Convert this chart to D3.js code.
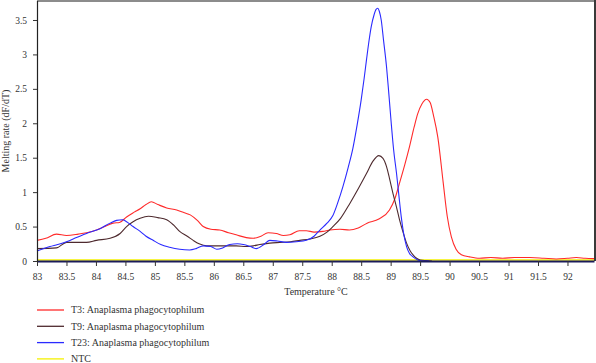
<!DOCTYPE html>
<html>
<head>
<meta charset="utf-8">
<script src="https://cdn.jsdelivr.net/npm/d3@7"></script>
<style>
  body { margin: 0; background: #fff; }
  svg { display: block; font-family: "Liberation Serif", "DejaVu Serif", serif; }
</style>
</head>
<body>
<svg id="chart" width="596" height="363"></svg>
<script>
// melt curve data
const t3Temp = [83.0, 83.15, 83.33, 83.5, 83.7, 83.84, 84.01, 84.15, 84.29, 84.4, 84.52, 84.65, 84.75, 84.85, 84.94, 85.05, 85.2, 85.37, 85.5, 85.6, 85.72, 85.82, 85.95, 86.1, 86.25, 86.38, 86.55, 86.67, 86.8, 86.92, 87.06, 87.18, 87.29, 87.45, 87.57, 87.7, 87.85, 87.97, 88.14, 88.3, 88.45, 88.6, 88.8, 88.98, 89.07, 89.15, 89.24, 89.32, 89.4, 89.46, 89.53, 89.61, 89.67, 89.73, 89.8, 89.89, 89.96, 90.03, 90.11, 90.2, 90.34, 90.51, 90.7, 90.9, 91.1, 91.36, 91.6, 91.81, 92.0, 92.15, 92.3, 92.45];
const t3Rate = [0.30, 0.33, 0.39, 0.37, 0.39, 0.41, 0.45, 0.50, 0.55, 0.56, 0.64, 0.71, 0.76, 0.82, 0.86, 0.82, 0.77, 0.74, 0.70, 0.67, 0.59, 0.50, 0.46, 0.45, 0.41, 0.38, 0.34, 0.33, 0.36, 0.41, 0.40, 0.37, 0.38, 0.44, 0.44, 0.42, 0.43, 0.45, 0.46, 0.45, 0.48, 0.55, 0.61, 0.74, 0.90, 1.13, 1.40, 1.66, 1.95, 2.14, 2.28, 2.35, 2.30, 2.10, 1.80, 1.15, 0.65, 0.35, 0.17, 0.09, 0.06, 0.04, 0.05, 0.04, 0.05, 0.05, 0.04, 0.03, 0.04, 0.05, 0.04, 0.035];

const t9Temp = [83.0, 83.33, 83.5, 83.84, 84.01, 84.24, 84.41, 84.52, 84.63, 84.75, 84.89, 85.05, 85.2, 85.32, 85.42, 85.55, 85.65, 85.75, 85.88, 86.05, 86.21, 86.38, 86.55, 86.67, 86.78, 86.95, 87.12, 87.3, 87.46, 87.63, 87.8, 87.92, 88.02, 88.15, 88.31, 88.45, 88.59, 88.7, 88.8, 88.87, 88.93, 88.98, 89.04, 89.1, 89.15, 89.21, 89.27, 89.33, 89.38, 89.44, 89.5, 89.6, 89.7];
const t9Rate = [0.18, 0.19, 0.27, 0.27, 0.30, 0.33, 0.40, 0.50, 0.57, 0.62, 0.65, 0.63, 0.60, 0.52, 0.43, 0.36, 0.30, 0.25, 0.22, 0.22, 0.22, 0.22, 0.21, 0.22, 0.24, 0.26, 0.27, 0.28, 0.30, 0.32, 0.36, 0.42, 0.50, 0.62, 0.84, 1.05, 1.27, 1.45, 1.53, 1.49, 1.37, 1.20, 0.98, 0.78, 0.60, 0.42, 0.26, 0.15, 0.09, 0.04, 0.015, 0.005, 0.0];

const t23Temp = [83.0, 83.22, 83.35, 83.5, 83.67, 83.84, 84.07, 84.24, 84.35, 84.45, 84.52, 84.63, 84.75, 84.85, 84.97, 85.1, 85.25, 85.42, 85.59, 85.7, 85.82, 85.95, 86.05, 86.15, 86.27, 86.4, 86.5, 86.62, 86.72, 86.85, 86.95, 87.08, 87.23, 87.4, 87.57, 87.7, 87.8, 87.92, 88.02, 88.1, 88.19, 88.28, 88.36, 88.43, 88.5, 88.55, 88.59, 88.63, 88.67, 88.72, 88.75, 88.78, 88.81, 88.84, 88.88, 88.93, 88.97, 89.01, 89.05, 89.1, 89.14, 89.18, 89.22, 89.27, 89.32, 89.38, 89.46, 89.55, 89.65];
const t23Rate = [0.145, 0.21, 0.24, 0.28, 0.34, 0.40, 0.47, 0.55, 0.59, 0.60, 0.57, 0.50, 0.43, 0.36, 0.30, 0.24, 0.20, 0.17, 0.16, 0.18, 0.22, 0.21, 0.17, 0.19, 0.24, 0.25, 0.24, 0.21, 0.18, 0.24, 0.30, 0.29, 0.27, 0.28, 0.30, 0.36, 0.45, 0.55, 0.66, 0.84, 1.08, 1.36, 1.64, 1.97, 2.34, 2.65, 2.92, 3.18, 3.40, 3.58, 3.65, 3.67, 3.62, 3.50, 3.20, 2.82, 2.42, 2.00, 1.62, 1.27, 0.95, 0.64, 0.40, 0.21, 0.11, 0.06, 0.015, 0.0, 0.0];

const ntcTemp = [83.0, 92.45];
const ntcRate = [0.015, 0.015];

const xTicks = [83, 83.5, 84, 84.5, 85, 85.5, 86, 86.5, 87, 87.5, 88, 88.5, 89, 89.5, 90, 90.5, 91, 91.5, 92];
const yTicks = [0, 0.5, 1, 1.5, 2, 2.5, 3, 3.5];

const seriesNames = ["T3: Anaplasma phagocytophilum", "T9: Anaplasma phagocytophilum", "T23: Anaplasma phagocytophilum", "NTC"];
const seriesColors = ["#ff2a2a", "#4e2a2e", "#2a2aff", "#f5f000"];

const svg = d3.select("#chart");
const plotLeft = 37, plotRight = 594, plotTop = 0.5, plotBottom = 261;

const x = d3.scaleLinear().domain([83, 92.45]).range([plotLeft, plotRight]);
const y = d3.scaleLinear().domain([0, 3.783]).range([plotBottom, plotTop]);

// frame: grey top, dark right
svg.append("line")
    .attr("x1", plotLeft).attr("x2", 596).attr("y1", 1).attr("y2", 1)
    .attr("stroke", "#8c8c8c").attr("stroke-width", 2);
svg.append("line")
    .attr("x1", 595).attr("x2", 595).attr("y1", 0).attr("y2", plotBottom)
    .attr("stroke", "#3a3a3a").attr("stroke-width", 2);

// curves
const line = d3.line()
    .x(d => x(d[0]))
    .y(d => y(d[1]))
    .curve(d3.curveMonotoneX);

const series = [
    d3.zip(t3Temp, t3Rate),
    d3.zip(t9Temp, t9Rate),
    d3.zip(t23Temp, t23Rate),
    d3.zip(ntcTemp, ntcRate)
];

// draw NTC first so it sits under the others
[3, 0, 1, 2].forEach(i => {
    svg.append("path")
        .datum(series[i])
        .attr("fill", "none")
        .attr("stroke", seriesColors[i])
        .attr("stroke-width", i == 3 ? 1.5 : 1.1)
        .attr("d", line);
});

// axes
const xAxis = svg.append("g")
    .attr("transform", `translate(0,${plotBottom})`)
    .call(d3.axisBottom(x).tickValues(xTicks).tickSize(5).tickSizeOuter(0).tickFormat(d => String(d)));
xAxis.select(".domain").attr("stroke", "#1b1b5a").attr("stroke-width", 2.2);
xAxis.selectAll(".tick line").attr("stroke", "#333");
xAxis.selectAll("text")
    .attr("font-size", 9.5).attr("fill", "#333").attr("dy", "1.15em")
    .attr("font-family", "Liberation Serif, serif");

const yAxis = svg.append("g")
    .attr("transform", `translate(${plotLeft},0)`)
    .call(d3.axisLeft(y).tickValues(yTicks).tickSize(4).tickSizeOuter(0).tickFormat(d => String(d)));
yAxis.select(".domain").attr("stroke", "#222").attr("stroke-width", 1.2);
yAxis.selectAll(".tick line").attr("stroke", "#333");
yAxis.selectAll("text")
    .attr("font-size", 9.5).attr("fill", "#333").attr("x", -10)
    .attr("font-family", "Liberation Serif, serif");

// axis titles
svg.append("text")
    .attr("x", 316).attr("y", 295)
    .attr("text-anchor", "middle")
    .attr("font-size", 10).attr("fill", "#333")
    .text("Temperature °C");

svg.append("text")
    .attr("transform", "translate(9,131) rotate(-90)")
    .attr("text-anchor", "middle")
    .attr("font-size", 10).attr("fill", "#333")
    .text("Melting rate (dF/dT)");

// legend
const legend = svg.append("g").attr("transform", "translate(37,310)");
seriesNames.forEach((name, i) => {
    const row = legend.append("g").attr("transform", `translate(0,${i * 16.3})`);
    row.append("line")
        .attr("x1", 0).attr("x2", 27).attr("y1", 0).attr("y2", 0)
        .attr("stroke", seriesColors[i]).attr("stroke-width", 1.3);
    row.append("text")
        .attr("x", 34).attr("y", 0).attr("dy", "0.33em")
        .attr("font-size", 10).attr("fill", "#333")
        .text(name);
});
</script>
</body>
</html>
